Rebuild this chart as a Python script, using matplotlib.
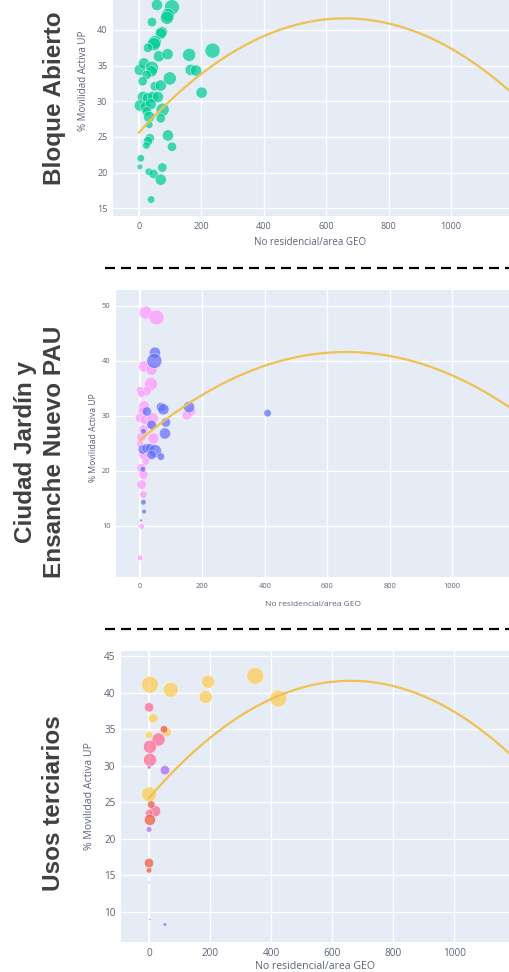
import numpy as np
import matplotlib.pyplot as plt
from matplotlib.lines import Line2D

plt.rcParams['font.family'] = ['Open Sans', 'DejaVu Sans']

W, H = 509, 972

# common quadratic trend line (a2, a1, a0)
tendencia = [-3.67e-5, 0.0485, 25.6]
x_tendencia = [0, 1250]

# --- Bloque Abierto ---
x_bloque = [58, 106, 93, 90, 42, 74, 70, 51, 48, 29, 64, 92, 161, 236, 3, 16, 42, 41, 25, 12,
            99, 166, 183, 201, 51, 70, 13, 29, 45, 61, 3, 22, 38, 25, 33, 76, 70, 33, 93, 35,
            29, 24, 106, 6, 3, 32, 47, 75, 70, 39]
y_bloque = [43.5, 43.2, 42.1, 41.7, 41.1, 39.7, 39.5, 38.3, 38.0, 37.5, 36.3, 36.6, 36.5, 37.1,
            34.4, 35.3, 34.7, 34.2, 33.7, 32.8, 33.2, 34.4, 34.3, 31.2, 32.1, 32.2, 30.6, 30.4,
            30.6, 30.6, 29.4, 29.2, 29.6, 28.6, 27.8, 28.8, 27.6, 26.7, 25.2, 24.8, 24.4, 23.8,
            23.6, 22.0, 20.8, 20.1, 19.8, 20.7, 19.0, 16.2]
t_bloque = [6, 8, 7, 7, 5, 6, 6, 7, 7, 5, 6, 6, 7, 8, 6, 6, 7, 6, 5, 5, 7, 6, 6, 6, 5, 6, 6, 6,
            6, 6, 6, 6, 6, 5, 6, 7, 5, 4, 6, 5, 5, 4, 5, 4, 3, 4, 5, 5, 6, 4]

# --- Ciudad Jardin / Ensanche Nuevo PAU ---
x_jardin = [18, 53, 13, 37, 35, 21, 0, 5, 13, 9, 0, 16, 41, 37, 11, 43, 5, 0, 11, 19, 5, 11, 5,
            11, 5, 0, 150, 163]
y_jardin = [48.8, 47.9, 39.0, 38.4, 35.8, 34.5, 34.7, 34.0, 31.7, 30.8, 29.6, 29.3, 29.6, 28.4,
            27.5, 25.9, 26.2, 24.9, 22.9, 21.7, 20.5, 19.3, 17.5, 15.7, 9.9, 4.2, 30.1, 30.8]
t_jardin = [7, 8, 6, 6, 7, 5, 4, 4, 6, 5, 5, 5, 6, 5, 5, 6, 5, 4, 5, 4, 5, 5, 5, 4, 3, 3, 5, 5]

x_pau = [48, 46, 22, 67, 75, 83, 80, 37, 157, 409, 11, 9, 21, 32, 48, 37, 67, 9, 11, 13, 3]
y_pau = [41.5, 40.0, 30.8, 31.6, 31.2, 28.8, 26.8, 28.4, 31.6, 30.5, 27.2, 23.9, 24.1, 24.1,
         23.6, 22.9, 22.6, 20.3, 14.3, 12.6, 11.0]
t_pau = [6, 8, 5, 5, 6, 5, 6, 5, 6, 4, 3, 5, 5, 5, 7, 5, 4, 3, 3, 2.5, 1.5]

# --- Usos terciarios ---
x_ter_a = [3, 71, 194, 186, 348, 424, 14, 0, 58, 0]
y_ter_a = [41.1, 40.4, 41.5, 39.4, 42.3, 39.2, 36.5, 34.2, 34.6, 26.1]
t_ter_a = [9, 8, 7, 7, 9, 9, 5, 4, 5, 8]

x_ter_b = [0, 31, 3, 3, 20, 0]
y_ter_b = [38.0, 33.6, 32.6, 30.8, 23.8, 23.5]
t_ter_b = [5, 7, 7, 7, 6, 4]

x_ter_c = [49, 3, 7, 0, 0, 0]
y_ter_c = [35.0, 22.6, 24.7, 16.7, 15.7, 14.0]
t_ter_c = [4, 6, 4, 5, 3, 1]

x_ter_d = [52, 0, 0, 52, 3]
y_ter_d = [29.4, 21.3, 29.8, 8.3, 9.0]
t_ter_d = [5, 3, 2, 2, 1]

xticks = [0, 200, 400, 600, 800, 1000]


def fx(px):
    return px / W


def fy(py):
    return 1 - py / H


def panel(fig, box, xlim, ylim, yticks, grupos, fs_tick):
    left, top, bottom = box
    ax = fig.add_axes([fx(left), fy(bottom), 1 - fx(left), fy(top) - fy(bottom)])
    ax.set_facecolor('#E5ECF6')
    for s in ax.spines.values():
        s.set_visible(False)
    ax.set_xlim(xlim)
    ax.set_ylim(ylim)
    ax.set_xticks(xticks)
    ax.set_yticks(yticks)
    ax.grid(color='white', lw=1)
    ax.set_axisbelow(True)
    ax.axvline(0, color='white', lw=1.5, zorder=0.5)
    ax.tick_params(length=0, labelsize=fs_tick, labelcolor='#5a6478', pad=4)
    for xs, ys, ts, col in grupos:
        ax.scatter(xs, ys, s=(np.array(ts) * 1.35) ** 2, color=col, alpha=0.72,
                   edgecolors='white', linewidths=0.4, zorder=2)
    xt = np.linspace(x_tendencia[0], x_tendencia[1], 300)
    ax.plot(xt, np.polyval(tendencia, xt), color='#F0C050', lw=1.6, zorder=3)
    return ax


fig = plt.figure(figsize=(W / 100, H / 100), dpi=100)

panel(fig, (113, 0, 216), (-83, 1186), (13.9, 44.2), [15, 20, 25, 30, 35, 40],
      [(x_bloque, y_bloque, t_bloque, '#00CC96')], 6.5)
panel(fig, (116, 290, 577), (-77, 1183), (0.7, 52.9), [10, 20, 30, 40, 50],
      [(x_jardin, y_jardin, t_jardin, '#FF97FF'), (x_pau, y_pau, t_pau, '#636EFA')], 5.4)
panel(fig, (121, 651, 942), (-92, 1180), (5.9, 45.7), [10, 15, 20, 25, 30, 35, 40, 45],
      [(x_ter_a, y_ter_a, t_ter_a, '#FECB52'), (x_ter_b, y_ter_b, t_ter_b, '#FF6692'),
       (x_ter_c, y_ter_c, t_ter_c, '#EF553B'), (x_ter_d, y_ter_d, t_ter_d, '#AB63FA')], 7.2)

# axis titles
lab = dict(color='#5a6478', ha='center', va='center')
fig.text(fx(84), fy(81), '% Movilidad Activa UP', rotation=90, fontsize=7.0, **lab)
fig.text(fx(310), fy(242), 'No residencial/area GEO', fontsize=7.0, **lab)
fig.text(fx(94), fy(438), '% Movilidad Activa UP', rotation=90, fontsize=6.2, **lab)
fig.text(fx(313), fy(604), 'No residencial/area GEO', fontsize=6.0, **lab)
fig.text(fx(90), fy(796), '% Movilidad Activa UP', rotation=90, fontsize=7.6, **lab)
fig.text(fx(315), fy(966), 'No residencial/area GEO', fontsize=7.6, **lab)

# side titles
side = dict(color='#404040', fontweight='bold', rotation=90, ha='center', va='center',
            family=['Liberation Sans', 'DejaVu Sans'], fontsize=17.5)
fig.text(fx(54), fy(98), 'Bloque Abierto', **side)
fig.text(fx(40), fy(452), 'Ciudad Jardín y\nEnsanche Nuevo PAU', linespacing=1.3, **side)
fig.text(fx(54), fy(803), 'Usos terciarios', **side)

# dashed separators
for ysep in (268, 629):
    fig.add_artist(Line2D([fx(105), 1], [fy(ysep), fy(ysep)], color='black', lw=1.6,
                          dashes=(4.5, 2.7)))

fig.savefig('out.png', dpi=100)
